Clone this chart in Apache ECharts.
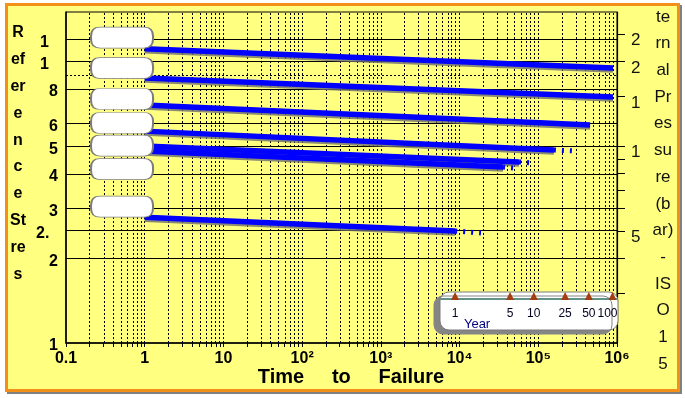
<!DOCTYPE html>
<html>
<head>
<meta charset="utf-8">
<script src="https://cdn.jsdelivr.net/npm/echarts@6/dist/echarts.min.js"></script>
<style>
html, body { margin: 0; padding: 0; background: #fff; }
#frame {
  position: absolute; left: 5px; top: 3px; width: 669px; height: 383px;
  background: #ffff80; border: 3px solid #f39019; box-shadow: 2px 2px 0 #808080;
}
#chart { position: absolute; left: 0; top: 0; width: 685px; height: 398px; }
</style>
</head>
<body>
<div id="frame"></div>
<div id="chart"></div>
<script>
// x axis: time to failure (log), decade labels
const xDecades = [0.1, 1, 10, 100, 1000, 1e4, 1e5, 1e6]
const xDecadeLabels = ['0.1', '1', '10', '10²', '10³', '10⁴', '10⁵', '10⁶']

// left axis: reference stress (log)
const stressTicks = [1, 2, 2.5, 3, 4, 5, 6, 8, 10, 12]
const stressTickLabels = ['1', '2', '2.', '3', '4', '5', '6', '8', '1', '1']
const stressFullLabels = ['1', '2', '2.5', '3', '4', '5', '6', '8', '10', '12']
const stressDottedLine = 9

// right axis: internal pressure (bar)
const pressureTicks = [3, 4, 5, 6, 7, 8, 9, 10, 15, 20, 25]
const pressureLabelValues = [5, 10, 15, 20, 25]
const pressureLabels = ['5', '1', '1', '2', '2']

// regression lines: start / end of the solid part, end of the dashed tail
const lineStartTime = [1, 1, 1, 1, 1, 1, 1]
const lineStartStress = [11.1, 8.74, 7.01, 5.66, 5.01, 4.81, 2.8]
const lineEndTime = [8.9e5, 8.9e5, 4.55e5, 1.58e5, 5.7e4, 3.57e4, 8.8e3]
const lineEndStress = [9.48, 7.48, 5.95, 4.85, 4.4, 4.22, 2.5]
const tailEndTime = [null, null, null, 2.94e5, 8.3e4, 5.07e4, 1.87e4]
const tailEndStress = [null, null, null, 4.81, 4.36, 4.18, 2.46]

// empty label boxes at the left of each line
const boxTime = [0.515, 0.515, 0.515, 0.515, 0.515, 0.515, 0.515]
const boxStress = [12.17, 9.48, 7.36, 6.05, 5.03, 4.15, 3.05]

// years marker row (hours)
const yearHours = [8766, 43830, 87660, 219150, 438300, 876600]
const yearLabels = ['1', '5', '10', '25', '50', '100']
const yearRowStress = 1.47

const lg = Math.log10
const FONT = '"Liberation Sans", Arial, sans-serif'

// minor ticks 1..9 per decade, in log space
const xTickPos = []
for (let e = -1; e < 6; e++) {
  for (let k = 1; k <= 9; k++) xTickPos.push(e + lg(k))
}
xTickPos.push(6)

const near = (arr, v) => arr.findIndex(a => Math.abs(lg(a) - v) < 1e-6)

const chart = echarts.init(document.getElementById('chart'))

const series = []

// grid lines drawn as mark lines (dotted verticals, solid horizontals, dotted at 9)
series.push({
  type: 'line',
  silent: true,
  z: 0,
  data: [],
  markLine: {
    z: 0,
    silent: true, symbol: 'none', label: { show: false }, animation: false,
    data: xTickPos.slice(1, -1).map(v => ({ xAxis: v, lineStyle: { color: '#000', width: 1, type: [2, 2] } }))
      .concat(stressTicks.slice(1).map(s => ({ yAxis: lg(s), lineStyle: { color: '#000', width: 1, type: 'solid' } })))
      .concat([{ yAxis: lg(stressDottedLine), lineStyle: { color: '#000', width: 1, type: [2, 2] } }])
  }
})

lineStartTime.forEach((t, i) => {
  series.push({
    type: 'line',
    silent: true,
    symbol: 'none',
    z: 2,
    lineStyle: {
      color: '#0000ff', width: 5.5,
      shadowColor: 'rgba(110,110,110,0.8)', shadowOffsetY: 2, shadowBlur: 0
    },
    data: [[lg(t), lg(lineStartStress[i])], [lg(lineEndTime[i]), lg(lineEndStress[i])]]
  })
  if (tailEndTime[i] != null) {
    series.push({
      type: 'line',
      silent: true,
      symbol: 'none',
      z: 2,
      lineStyle: { color: '#0000ff', width: 5, type: [2, 6] },
      data: [[lg(lineEndTime[i]), lg(lineEndStress[i])], [lg(tailEndTime[i]), lg(tailEndStress[i])]]
    })
  }
})

// label boxes
series.push({
  type: 'scatter',
  silent: true,
  z: 4,
  symbol: 'path://M9,0 L53,0 Q62,0 62,9 L62,12 Q62,21 53,21 L9,21 Q0,21 0,12 L0,9 Q0,0 9,0 Z',
  symbolSize: [62, 21],
  itemStyle: {
    color: '#fff', borderColor: '#7d7d7d', borderWidth: 1.2, opacity: 1
  },
  data: boxTime.map((t, i) => [lg(t), lg(boxStress[i])])
})

// year markers
series.push({
  type: 'scatter',
  silent: true,
  z: 5,
  symbol: 'triangle',
  symbolSize: [8, 8],
  itemStyle: { color: '#a33d12', opacity: 1 },
  label: {
    show: true,
    position: 'bottom',
    distance: 8,
    formatter: p => p.dataIndex === 0 ? '{n|1}\n{y|Year}' : '{n|' + yearLabels[p.dataIndex] + '}',
    rich: {
      n: { fontFamily: FONT, fontSize: 12, color: '#000022', lineHeight: 11 },
      y: { fontFamily: FONT, fontSize: 13, color: '#000080', lineHeight: 12, padding: [0, 0, 0, 44] }
    }
  },
  data: yearHours.map((h, i) => ({
    value: [lg(h), lg(yearRowStress)],
    label: i === yearHours.length - 1 ? { offset: [-5, 0] } : undefined
  }))
})

const boldLabel = { fontFamily: FONT, fontSize: 16, fontWeight: 'bold', color: '#000', lineHeight: 6 }

const option = {
  animation: false,
  grid: {
    left: 66, right: 68, top: 12, bottom: 55,
    show: true, borderColor: '#000', borderWidth: 1, backgroundColor: 'transparent'
  },
  xAxis: {
    type: 'value',
    min: -1, max: 6,
    axisLine: { show: true, onZero: false, lineStyle: { color: '#000', width: 1.5 } },
    axisTick: { show: true, length: 4, lineStyle: { color: '#000' }, customValues: xTickPos },
    splitLine: { show: false },
    axisLabel: {
      customValues: xDecades.map(lg),
      margin: 8,
      color: '#000', fontFamily: FONT, fontSize: 16, fontWeight: 'bold',
      formatter: v => xDecadeLabels[near(xDecades, v)]
    }
  },
  yAxis: [
    {
      type: 'value',
      min: 0, max: lg(15),
      axisLine: { show: true, onZero: false, lineStyle: { color: '#000', width: 1.5 } },
      axisTick: { show: false },
      splitLine: { show: false },
      axisLabel: Object.assign({
        customValues: stressTicks.map(lg),
        margin: 8,
        verticalAlign: 'top',
        formatter: v => {
          const i = near(stressTicks, v)
          const full = stressFullLabels[i]
          if (full.length === 3) return '{w3|' + stressTickLabels[i] + '}'
          if (full.length === 2) return '{w2|' + stressTickLabels[i] + '}'
          return stressTickLabels[i]
        },
        rich: {
          w2: Object.assign({ width: 18, align: 'left' }, boldLabel),
          w3: Object.assign({ width: 22, align: 'left' }, boldLabel)
        }
      }, boldLabel)
    },
    {
      type: 'value',
      position: 'right',
      min: lg(2), max: lg(30),
      axisLine: { show: true, onZero: false, lineStyle: { color: '#000', width: 1.2 } },
      axisTick: { show: true, length: 8, lineStyle: { color: '#000' }, customValues: pressureTicks.map(lg) },
      splitLine: { show: false },
      axisLabel: {
        customValues: pressureLabelValues.map(lg),
        margin: 14,
        verticalAlign: 'top',
        lineHeight: 13,
        color: '#111', fontFamily: FONT, fontSize: 17,
        formatter: v => pressureLabels[near(pressureLabelValues, v)]
      }
    }
  ],
  graphic: [
    {
      type: 'rect', z: 1, silent: true,
      shape: { x: 440, y: 292, width: 178, height: 38, r: 9 },
      style: { fill: '#fff', stroke: '#7a7a7a', lineWidth: 1, shadowColor: '#858585', shadowOffsetX: -6, shadowOffsetY: 4, shadowBlur: 0 }
    },
    {
      type: 'line', z: 1, silent: true,
      shape: { x1: 441, y1: 299, x2: 617, y2: 299 },
      style: { stroke: '#2e6e5c', lineWidth: 1.5 }
    },
    {
      type: 'text', x: 18, y: 19.6, silent: true,
      style: {
        text: 'R\nef\ner\ne\nn\nc\ne\nSt\nre\ns',
        align: 'center', verticalAlign: 'top', lineHeight: 26.8,
        fontFamily: FONT, fontSize: 16, fontWeight: 'bold', fill: '#000'
      }
    },
    {
      type: 'text', x: 663, y: 3.65, silent: true,
      style: {
        text: 'te\nrn\nal\nPr\nes\nsu\nre\n(b\nar)\n-\nIS\nO\n1\n5',
        align: 'center', verticalAlign: 'top', lineHeight: 26.7,
        fontFamily: FONT, fontSize: 17, fill: '#111'
      }
    },
    {
      type: 'text', x: 351, y: 377, silent: true,
      style: {
        text: 'Time     to     Failure',
        align: 'center', verticalAlign: 'middle',
        fontFamily: FONT, fontSize: 20, fontWeight: 'bold', fill: '#000'
      }
    }
  ],
  series: series
}

chart.setOption(option)
</script>
</body>
</html>
